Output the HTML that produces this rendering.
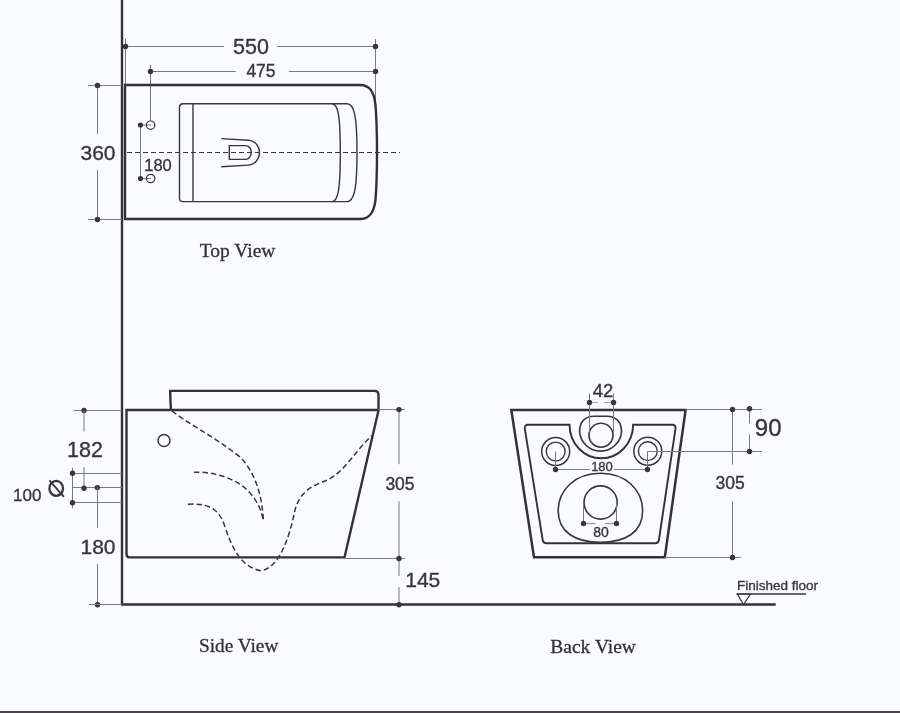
<!DOCTYPE html>
<html><head><meta charset="utf-8">
<style>
html,body{margin:0;padding:0;background:#fafbfd;width:900px;height:713px;overflow:hidden}
svg{display:block;will-change:transform}
text{font-family:"Liberation Sans",sans-serif;fill:#38363a;stroke:#38363a;stroke-width:0.35}
text.sv{font-family:"Liberation Serif",serif;fill:#333135;stroke:#333135;stroke-width:0.3}
.k{stroke:#343236;fill:none;stroke-width:2.4}
.m{stroke:#38363a;fill:none;stroke-width:1.4}
.t{stroke:#7a7a7e;fill:none;stroke-width:1}
.d{fill:#38363a}
.dash{stroke:#38363a;fill:none;stroke-width:1.5;stroke-dasharray:5.5 3}
</style></head>
<body>
<svg width="900" height="713" viewBox="0 0 900 713">
<rect x="0" y="711" width="900" height="2" fill="#4a4448"/>
<line class="k" x1="122" y1="0" x2="122" y2="605"/>
<line class="k" x1="121" y1="604.5" x2="775.7" y2="604.5" style="stroke-width:2.3"/>
<line class="t" x1="125.5" y1="39" x2="125.5" y2="84"/>
<line class="t" x1="375.5" y1="39" x2="375.5" y2="118"/>
<line class="t" x1="125.5" y1="46.5" x2="224" y2="46.5"/>
<line class="t" x1="277" y1="46.5" x2="375.5" y2="46.5"/>
<circle class="d" cx="125.5" cy="46.5" r="2.7"/>
<circle class="d" cx="375.5" cy="46.5" r="2.7"/>
<text x="251" y="53.8" font-size="21.5" text-anchor="middle">550</text>
<line class="t" x1="150.5" y1="71.5" x2="235.8" y2="71.5"/>
<line class="t" x1="289" y1="71.5" x2="375.5" y2="71.5"/>
<line class="t" x1="150.5" y1="65" x2="150.5" y2="121"/>
<circle class="d" cx="150.5" cy="71.5" r="2.7"/>
<circle class="d" cx="375.5" cy="71.5" r="2.7"/>
<text x="261" y="76.9" font-size="17.5" text-anchor="middle">475</text>
<path class="k" d="M125,219 V85 H360 C370,85 374,92 375.5,105 C377.5,130 377.5,175 375.5,200 C374,212 370,219 360,219 Z"/>
<line class="t" x1="88" y1="85.5" x2="122" y2="85.5"/>
<line class="t" x1="88" y1="219.5" x2="122" y2="219.5"/>
<line class="t" x1="97.5" y1="85.5" x2="97.5" y2="133.6"/>
<line class="t" x1="97.5" y1="170.4" x2="97.5" y2="219.5"/>
<circle class="d" cx="97.5" cy="85.5" r="2.7"/>
<circle class="d" cx="97.5" cy="219.5" r="2.7"/>
<text x="98" y="159.8" font-size="21" text-anchor="middle">360</text>
<line class="t" x1="140.5" y1="125" x2="140.5" y2="178.5"/>
<line class="t" x1="140.5" y1="125" x2="151" y2="125"/>
<line class="t" x1="140.5" y1="178.5" x2="151" y2="178.5"/>
<circle class="m" cx="150.6" cy="125.2" r="4.2" style="stroke-width:1.2"/>
<circle class="m" cx="150.6" cy="178.5" r="4.2" style="stroke-width:1.2"/>
<circle class="d" cx="140.5" cy="125" r="2.6"/>
<circle class="d" cx="140.5" cy="178.5" r="2.6"/>
<text x="158" y="171" font-size="16.5" text-anchor="middle">180</text>
<line class="dash" x1="127" y1="152.5" x2="400" y2="152.5" style="stroke-width:1.1;stroke-dasharray:5 3"/>
<path class="m" d="M183,103.8 H347 C354,103.8 357,115 357,152.8 C357,190 354,201.6 347,201.6 H183 Q179.5,201.6 179.5,198 V107.5 Q179.5,103.8 183,103.8 Z"/>
<line class="m" x1="193" y1="103.8" x2="193" y2="201.6"/>
<path class="m" d="M332,103.8 C338,104 340.3,115 340.3,152.8 C340.3,190 338,201.6 332,201.6"/>
<path class="m" d="M221.2,138.6 L248.5,140.2 C255,140.7 259.5,146 259.5,152.6 C259.5,159 255,164.6 248.5,165.1 L221.2,166.7"/>
<path class="m" d="M229.3,145.6 H245.5 C249,145.6 251.3,149 251.3,152.5 C251.3,156 249,159.4 245.5,159.4 H229.3 Z"/>
<text class="sv" x="199.8" y="256.5" font-size="19.5" text-anchor="start">Top View</text>
<path class="k" d="M126.5,410 H378.6 L344.5,557.4 H130 Q126.5,557.4 126.5,553.9 Z"/>
<path class="k" d="M171,410 Q170.2,400 170.2,390.9 H374.5 Q378.5,390.9 378.5,395 V410"/>
<circle class="m" cx="164" cy="440.5" r="6" style="stroke-width:1.5"/>
<path class="dash" d="M172,411 C190,425 215,437 240,457 C255,472 262,495 263.4,520"/>
<path class="dash" d="M194,472.3 C210,471.5 230,476 245,488 C255,497 261,508 263,519"/>
<path class="dash" d="M187.9,504.3 C205,503 218,507 224,524 C232,548 240,566 260.8,570.8 C280,568 290,535 295,510 C300,490 315,485 325,481 C345,473 355,450 373,434.7"/>
<line class="t" x1="73.5" y1="410.5" x2="122" y2="410.5"/>
<circle class="d" cx="84" cy="410.5" r="2.7"/>
<line class="t" x1="84" y1="410.5" x2="84" y2="431.5"/>
<text x="85" y="457" font-size="21.5" text-anchor="middle">182</text>
<line class="t" x1="84" y1="467" x2="84" y2="487.5"/>
<line class="t" x1="72.5" y1="467.8" x2="72.5" y2="508.2"/>
<line class="t" x1="72.5" y1="473.5" x2="122" y2="473.5"/>
<line class="t" x1="72.5" y1="502.5" x2="122" y2="502.5"/>
<line class="t" x1="73" y1="487.5" x2="122" y2="487.5"/>
<circle class="d" cx="72.5" cy="473.3" r="2.7"/>
<circle class="d" cx="72.5" cy="502.8" r="2.7"/>
<circle class="d" cx="84" cy="488.2" r="2.7"/>
<circle class="d" cx="97.3" cy="487.6" r="2.7"/>
<text x="27.3" y="501.4" font-size="17" text-anchor="middle">100</text>
<ellipse cx="56.2" cy="488.3" rx="6.8" ry="7.5" fill="none" stroke="#38363a" stroke-width="2.3"/>
<line x1="49.4" y1="480.3" x2="63.9" y2="496.8" stroke="#38363a" stroke-width="1.8"/>
<line class="t" x1="97.5" y1="487.5" x2="97.5" y2="527.7"/>
<line class="t" x1="97.5" y1="564.2" x2="97.5" y2="604.8"/>
<text x="98" y="554.3" font-size="21" text-anchor="middle">180</text>
<circle class="d" cx="97.5" cy="604.8" r="2.7"/>
<line class="t" x1="88.8" y1="604.5" x2="122" y2="604.5"/>
<line class="t" x1="378" y1="409.5" x2="405" y2="409.5"/>
<line class="t" x1="345" y1="558.5" x2="405" y2="558.5"/>
<line class="t" x1="399" y1="409.5" x2="399" y2="464.2"/>
<line class="t" x1="399" y1="501.3" x2="399" y2="576"/>
<line class="t" x1="399" y1="587" x2="399" y2="604.8"/>
<circle class="d" cx="399" cy="409.6" r="2.7"/>
<circle class="d" cx="399" cy="558.5" r="2.7"/>
<circle class="d" cx="399" cy="604.8" r="2.7"/>
<text x="400" y="489.8" font-size="17.5" text-anchor="middle">305</text>
<text x="422.8" y="587.3" font-size="21" text-anchor="middle">145</text>
<text class="sv" x="199" y="652.4" font-size="19.3" text-anchor="start">Side View</text>
<path class="k" d="M511.3,410 H685.6 L664.8,557.3 H534 Z" style="stroke-width:2.5"/>
<path class="k" d="M528,424.8 H569.5 A31.8,33.5 0 0 0 633.1,424.8 H672 Q676,424.8 675.5,428.6 L659,539.5 Q658.5,543.2 655,543.2 H546.5 Q543.1,543.2 542.6,539.5 L524.8,428.6 Q524.4,424.8 528,424.8 Z" style="stroke-width:1.9"/>
<path class="m" d="M594,416.2 H607 C615,416.2 621.5,421 621.5,431.6 A21,21 0 0 1 579.6,431.6 C579.6,421 586,416.2 594,416.2 Z" style="stroke-width:1.6"/>
<circle class="m" cx="601" cy="435.2" r="12" style="stroke-width:1.6"/>
<circle class="m" cx="555.7" cy="451.5" r="14" style="stroke-width:1.5"/>
<circle class="m" cx="555.7" cy="451.5" r="9.4" style="stroke-width:1.4"/>
<circle class="m" cx="647.8" cy="451.2" r="14" style="stroke-width:1.5"/>
<circle class="m" cx="647.8" cy="451.2" r="9.4" style="stroke-width:1.4"/>
<path class="m" d="M600.4,473.3 C626,473.3 642.6,490 642.6,511 C642.6,532 626,542.3 600.4,542.3 C575,542.3 558.2,532 558.2,511 C558.2,490 575,473.3 600.4,473.3 Z" style="stroke-width:1.6"/>
<circle class="m" cx="600.6" cy="502.5" r="16.6" style="stroke-width:1.6"/>
<line class="t" x1="589.5" y1="393.3" x2="589.5" y2="432.5"/>
<line class="t" x1="613.5" y1="393.3" x2="613.5" y2="432.5"/>
<line class="t" x1="591.6" y1="402.5" x2="597.9" y2="402.5" style="stroke:#a5a5a9"/>
<line class="t" x1="603.6" y1="402.5" x2="610.5" y2="402.5" style="stroke:#a5a5a9"/>
<circle class="d" cx="589.5" cy="402.5" r="2.7"/>
<circle class="d" cx="613.5" cy="402.5" r="2.7"/>
<text x="603" y="396.7" font-size="18.5" text-anchor="middle">42</text>
<line class="t" x1="555.5" y1="451.5" x2="555.5" y2="469.5"/>
<line class="t" x1="647.5" y1="451.2" x2="647.5" y2="469.5"/>
<line class="t" x1="555.5" y1="469.5" x2="590" y2="469.5"/>
<line class="t" x1="614" y1="469.5" x2="647.5" y2="469.5"/>
<circle class="d" cx="555.5" cy="469.5" r="2.7"/>
<circle class="d" cx="647.5" cy="469.5" r="2.7"/>
<text x="602" y="470.8" font-size="13" text-anchor="middle">180</text>
<line class="t" x1="583.5" y1="502.5" x2="583.5" y2="523.5"/>
<line class="t" x1="616.5" y1="502.5" x2="616.5" y2="523.5"/>
<line class="t" x1="585" y1="523.5" x2="595.6" y2="523.5" style="stroke:#9a9a9e;stroke-width:1.3"/>
<line class="t" x1="604.9" y1="523.5" x2="615.6" y2="523.5" style="stroke:#9a9a9e;stroke-width:1.3"/>
<circle class="d" cx="583.5" cy="523.5" r="2.7"/>
<circle class="d" cx="616.5" cy="523.5" r="2.7"/>
<text x="601.1" y="536.8" font-size="14" text-anchor="middle">80</text>
<line class="t" x1="685.6" y1="409.5" x2="762" y2="409.5"/>
<line class="t" x1="647.8" y1="451.5" x2="762" y2="451.5"/>
<line class="t" x1="664.8" y1="557.5" x2="740.6" y2="557.5"/>
<line class="t" x1="732.5" y1="409.5" x2="732.5" y2="464.5"/>
<line class="t" x1="732.5" y1="501.2" x2="732.5" y2="557.5"/>
<circle class="d" cx="732.5" cy="409.5" r="2.7"/>
<circle class="d" cx="732.5" cy="557.5" r="2.7"/>
<text x="730.2" y="489.2" font-size="17.5" text-anchor="middle">305</text>
<line class="t" x1="749.5" y1="409" x2="749.5" y2="423.5"/>
<line class="t" x1="749.5" y1="434.3" x2="749.5" y2="451.5"/>
<circle class="d" cx="749.5" cy="408.8" r="2.7"/>
<circle class="d" cx="749.5" cy="451.5" r="2.7"/>
<text x="768.2" y="436.4" font-size="24" text-anchor="middle">90</text>
<text x="737" y="590.4" font-size="13.5">Finished floor</text>
<line x1="736.7" y1="594" x2="806" y2="594" stroke="#38363a" stroke-width="1.5"/>
<path d="M737.3,594 L750.4,594 L743.5,604.5 Z" fill="none" stroke="#38363a" stroke-width="1.2"/>
<text class="sv" x="550.3" y="652.7" font-size="19.5" text-anchor="start">Back View</text>
</svg>
</body></html>
